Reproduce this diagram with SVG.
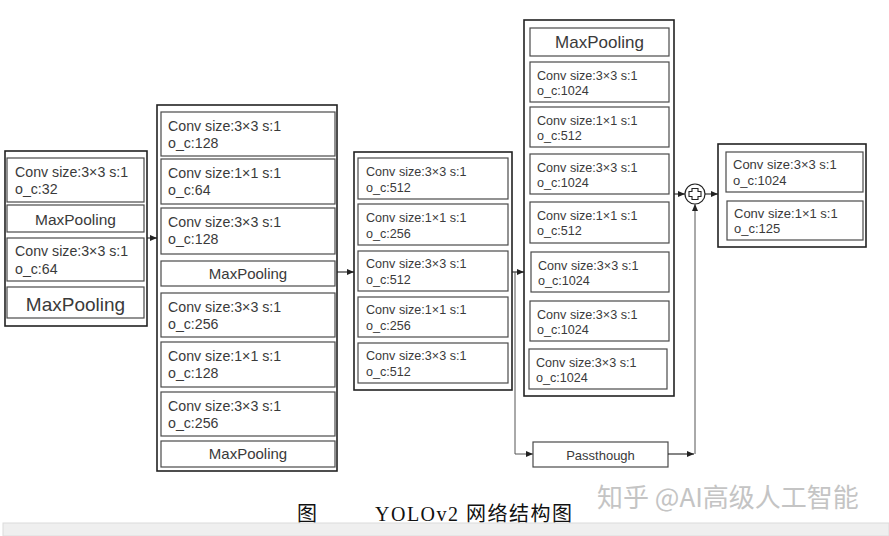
<svg xmlns="http://www.w3.org/2000/svg" width="889" height="536" viewBox="0 0 889 536">
<style>
.outer{fill:none;stroke:#222;stroke-width:1.6}
.box{fill:#fff;stroke:#4a4a4a;stroke-width:1.2}
.t{font-family:"Liberation Sans",Arial,sans-serif;fill:#3a3a3a}
.s1{font-size:14.2px}
.s2{font-size:12.6px}
.mp{text-anchor:middle}
.ln{fill:none;stroke:#222;stroke-width:1.1}
.gl{fill:none;stroke:#555;stroke-width:1}
</style>
<defs>
<marker id="ah" markerWidth="8" markerHeight="8" refX="7" refY="4" orient="auto" markerUnits="userSpaceOnUse">
<path d="M0,1 L7,4 L0,7 Z" fill="#222"/>
</marker>
</defs>
<rect width="889" height="536" fill="#fff"/>

<g id="col1">
<rect class="outer" x="5" y="151" width="142" height="175"/>
<rect class="box" x="7" y="158" width="137" height="44"/>
<text class="t s1" x="15" y="177">Conv size:3×3 s:1</text>
<text class="t s1" x="15" y="194">o_c:32</text>
<rect class="box" x="7" y="205" width="137" height="27"/>
<text class="t mp" x="75.5" y="225" font-size="15.5">MaxPooling</text>
<rect class="box" x="7" y="238" width="137" height="43"/>
<text class="t s1" x="15" y="256">Conv size:3×3 s:1</text>
<text class="t s1" x="15" y="274">o_c:64</text>
<rect class="box" x="7" y="287" width="137" height="31"/>
<text class="t mp" x="75.5" y="311" font-size="19">MaxPooling</text>
</g>

<g id="col2">
<rect class="outer" x="157" y="105" width="180" height="366"/>
<rect class="box" x="161" y="112" width="174" height="44"/>
<text class="t s1" x="168" y="131">Conv size:3×3 s:1</text>
<text class="t s1" x="168" y="148">o_c:128</text>
<rect class="box" x="161" y="159" width="174" height="45"/>
<text class="t s1" x="168" y="178">Conv size:1×1 s:1</text>
<text class="t s1" x="168" y="195">o_c:64</text>
<rect class="box" x="161" y="208" width="174" height="46"/>
<text class="t s1" x="168" y="227">Conv size:3×3 s:1</text>
<text class="t s1" x="168" y="244">o_c:128</text>
<rect class="box" x="161" y="261" width="174" height="25"/>
<text class="t mp" x="248" y="279" font-size="15">MaxPooling</text>
<rect class="box" x="161" y="293" width="174" height="44"/>
<text class="t s1" x="168" y="312">Conv size:3×3 s:1</text>
<text class="t s1" x="168" y="329">o_c:256</text>
<rect class="box" x="161" y="342" width="174" height="45"/>
<text class="t s1" x="168" y="361">Conv size:1×1 s:1</text>
<text class="t s1" x="168" y="378">o_c:128</text>
<rect class="box" x="161" y="392" width="174" height="44"/>
<text class="t s1" x="168" y="411">Conv size:3×3 s:1</text>
<text class="t s1" x="168" y="428">o_c:256</text>
<rect class="box" x="161" y="441" width="174" height="26"/>
<text class="t mp" x="248" y="459" font-size="15">MaxPooling</text>
</g>

<g id="col3">
<rect class="outer" x="354" y="152" width="158" height="238"/>
<rect class="box" x="358" y="158" width="150" height="41"/>
<text class="t s2" x="366" y="176">Conv size:3×3 s:1</text>
<text class="t s2" x="366" y="192">o_c:512</text>
<rect class="box" x="358" y="204" width="150" height="41"/>
<text class="t s2" x="366" y="222">Conv size:1×1 s:1</text>
<text class="t s2" x="366" y="238">o_c:256</text>
<rect class="box" x="358" y="251" width="150" height="40"/>
<text class="t s2" x="366" y="268">Conv size:3×3 s:1</text>
<text class="t s2" x="366" y="284">o_c:512</text>
<rect class="box" x="358" y="297" width="150" height="40"/>
<text class="t s2" x="366" y="314">Conv size:1×1 s:1</text>
<text class="t s2" x="366" y="330">o_c:256</text>
<rect class="box" x="358" y="343" width="150" height="40"/>
<text class="t s2" x="366" y="360">Conv size:3×3 s:1</text>
<text class="t s2" x="366" y="376">o_c:512</text>
</g>

<g id="col4">
<rect class="outer" x="524" y="20" width="150" height="376"/>
<rect class="box" x="530" y="28" width="139" height="28"/>
<text class="t mp" x="599.5" y="48" font-size="17">MaxPooling</text>
<rect class="box" x="530" y="62" width="139" height="40"/>
<text class="t s2" x="537" y="80">Conv size:3×3 s:1</text>
<text class="t s2" x="537" y="95">o_c:1024</text>
<rect class="box" x="530" y="107" width="139" height="40"/>
<text class="t s2" x="537" y="125">Conv size:1×1 s:1</text>
<text class="t s2" x="537" y="140">o_c:512</text>
<rect class="box" x="530" y="154" width="139" height="40"/>
<text class="t s2" x="537" y="172">Conv size:3×3 s:1</text>
<text class="t s2" x="537" y="187">o_c:1024</text>
<rect class="box" x="530" y="202" width="139" height="41"/>
<text class="t s2" x="537" y="220">Conv size:1×1 s:1</text>
<text class="t s2" x="537" y="235">o_c:512</text>
<rect class="box" x="531" y="252" width="138" height="40"/>
<text class="t s2" x="538" y="270">Conv size:3×3 s:1</text>
<text class="t s2" x="538" y="285">o_c:1024</text>
<rect class="box" x="530" y="301" width="139" height="40"/>
<text class="t s2" x="537" y="319">Conv size:3×3 s:1</text>
<text class="t s2" x="537" y="334">o_c:1024</text>
<rect class="box" x="529" y="349" width="138" height="40"/>
<text class="t s2" x="536" y="367">Conv size:3×3 s:1</text>
<text class="t s2" x="536" y="382">o_c:1024</text>
</g>

<g id="add">
<circle cx="695" cy="194" r="10" fill="#fff" stroke="#222" stroke-width="1.2"/>
<path d="M692,188.5 h6 v3 h3 v5 h-3 v3 h-6 v-3 h-3 v-5 h3 Z" fill="none" stroke="#222" stroke-width="1.1"/>
</g>

<g id="col5">
<rect class="outer" x="718" y="144" width="148" height="103"/>
<rect class="box" x="726" y="152" width="137" height="40"/>
<text class="t" x="733" y="169" font-size="13">Conv size:3×3 s:1</text>
<text class="t" x="733" y="185" font-size="13">o_c:1024</text>
<rect class="box" x="727" y="201" width="136" height="39"/>
<text class="t" x="734" y="218" font-size="13">Conv size:1×1 s:1</text>
<text class="t" x="734" y="233" font-size="13">o_c:125</text>
</g>

<g id="passthrough">
<rect class="box" x="533" y="442" width="135" height="25" stroke="#777"/>
<text class="t mp" x="600.5" y="460" font-size="13">Passthough</text>
</g>

<g id="connectors">
<line class="ln" x1="147" y1="238" x2="157" y2="238" marker-end="url(#ah)"/>
<line class="ln" x1="337" y1="272" x2="354" y2="272" marker-end="url(#ah)"/>
<line class="ln" x1="512" y1="272" x2="524" y2="272" marker-end="url(#ah)"/>
<polyline class="gl" points="515,272 515,454 533,454" marker-end="url(#ah)"/>
<line class="ln" x1="674" y1="194" x2="685" y2="194" marker-end="url(#ah)"/>
<line class="ln" x1="705" y1="194" x2="718" y2="194" marker-end="url(#ah)"/>
<line class="ln" x1="668" y1="454" x2="694" y2="454" marker-end="url(#ah)"/>
<line class="gl" x1="695" y1="454" x2="695" y2="204" marker-end="url(#ah)"/>
</g>

<g id="caption">
<text x="297" y="521" font-family="'Liberation Serif','Noto Sans CJK SC',serif" font-size="20" fill="#111">图</text>
<text x="375" y="521" font-family="'Liberation Serif','Noto Sans CJK SC',serif" font-size="20" letter-spacing="1.5" fill="#111">YOLOv2 网络结构图</text>
<text x="597" y="507" font-family="'Noto Sans CJK SC',sans-serif" font-size="26" fill="#c4c4c4">知乎 @AI高级人工智能</text>
</g>

<rect x="3" y="523" width="886" height="13" fill="#efefef" stroke="#dcdcdc" stroke-width="1"/>
</svg>
